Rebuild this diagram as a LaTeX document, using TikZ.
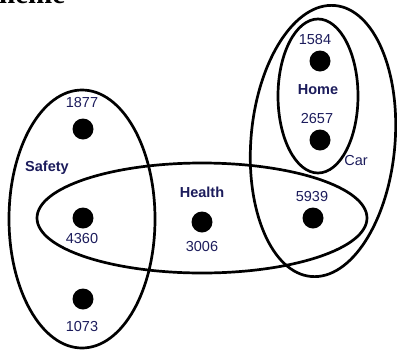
\documentclass[tikz,border=0pt]{standalone}
\usepackage{fontspec}
\setmainfont{Liberation Sans}
\newfontfamily\titlefont{Liberation Serif}
\definecolor{navy}{HTML}{1C1C5C}
\begin{document}
\begin{tikzpicture}[x=1pt,y=-1pt,
  setline/.style={line width=2.7pt,draw=black},
  dot/.style={circle,fill=black,minimum size=21pt,inner sep=0pt},
  num/.style={text=navy,font=\fontsize{14.5}{14.5}\selectfont,inner sep=0pt},
  setname/.style={text=navy,font=\fontsize{14.5}{14.5}\selectfont\bfseries,inner sep=0pt}]
\useasboundingbox (0,0) rectangle (397,349);
\clip (0,0) rectangle (397,349);
\fill[white] (0,0) rectangle (397,349);
% title (clipped at the top edge, as in the reference)
\node[anchor=base west,inner sep=0pt,font=\titlefont\fontsize{29}{29}\selectfont\bfseries] (title) at (-1,3) {heme};
% set outlines
\draw[setline] (82,219) ellipse[x radius=73pt,y radius=129pt];
\draw[setline] (202,218) ellipse[x radius=165pt,y radius=55pt];
\draw[setline] (323,141) ellipse[x radius=72pt,y radius=136pt,rotate=-5];
\draw[setline] (318,96) ellipse[x radius=40pt,y radius=77pt];
% dots
\node[dot] (d1584) at (320,61) {};
\node[dot] (d2657) at (320,140) {};
\node[dot] (d1877) at (83,129) {};
\node[dot] (d4360) at (83,218) {};
\node[dot] (d1073) at (83,299) {};
\node[dot] (d3006) at (202,222) {};
\node[dot] (d5939) at (313,218) {};
% labels
\node[num] (l1584) at (315,40) {1584};
\node[num] (l2657) at (317,119) {2657};
\node[num] (l1877) at (82,103) {1877};
\node[num] (l4360) at (82,239) {4360};
\node[num] (l1073) at (82,327) {1073};
\node[num] (l3006) at (202,247) {3006};
\node[num] (l5939) at (312,197) {5939};
\node[num] (lcar) at (356,161) {Car};
\node[setname] (lhome) at (318,90) {Home};
\node[setname] (lsafety) at (47,168) {Safety};
\node[setname] (lhealth) at (202,192) {Health};
\end{tikzpicture}
\end{document}
